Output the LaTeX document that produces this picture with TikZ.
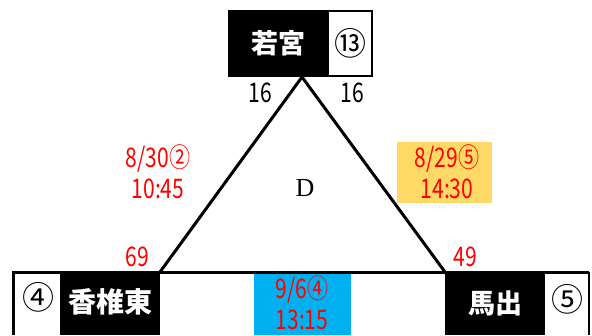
\documentclass[tikz,border=0pt]{standalone}
\usepackage{fontspec}
\usepackage{graphicx}
\newfontfamily\jp{Noto Sans CJK JP}
\newfontfamily\serif{Liberation Serif}
\definecolor{skyb}{HTML}{00B0F0}
\definecolor{yel}{HTML}{FFD966}
\newcommand\narrow[1]{\scalebox{0.78}[1]{#1}}
\begin{document}
\begin{tikzpicture}[x=1pt,y=-1pt,
  namebox/.style={fill=black,text=white,font=\jp\bfseries\fontsize{27}{30}\selectfont,inner sep=0pt,minimum width=100pt},
  circnum/.style={font=\jp\fontsize{32}{34}\selectfont,inner sep=0pt},
  datetxt/.style={text=red,font=\jp\fontsize{27}{31}\selectfont,align=center,inner sep=0pt},
  numtxt/.style={font=\jp\fontsize{27}{30}\selectfont,inner sep=0pt},
  edge/.style={line width=3pt},
  frame/.style={line width=3pt}]
\useasboundingbox (0,0) rectangle (592,335);
% top station box
\node[namebox,minimum height=67pt] (waka) at (278,43.5) {若宮};
\node[draw=black,line width=2pt,fill=white,minimum width=44pt,minimum height=65pt,inner sep=0pt] (wakan) at (350,43.5) {};
\node[circnum] (wakac) at (350,43) {⑬};
% bottom frame
\coordinate (fl) at (13,335);
\coordinate (ftl) at (13,272);
\coordinate (ftr) at (589,272);
\coordinate (fr) at (589,335);
\node[namebox,minimum height=63pt,anchor=north] (kashii) at (110,272) {};
\node[namebox,minimum height=63pt,anchor=north] (made) at (495,272) {};
\node[fill=skyb,minimum width=97pt,minimum height=62pt,inner sep=0pt] (bbox) at (302.5,304) {};
\draw[frame] (fl) -- (ftl) -- (ftr);
\draw[line width=2pt] (ftr) -- (fr);
\node[text=white,font=\jp\bfseries\fontsize{28}{30}\selectfont,inner sep=0pt] (kashiit) at (110,302) {香椎東};
\node[text=white,font=\jp\bfseries\fontsize{27}{30}\selectfont,inner sep=0pt] (madet) at (495,303) {馬出};
\node[circnum] (c4) at (38,297) {④};
\node[circnum] (c5) at (567,299) {⑤};
% triangle
\coordinate (apex) at (302,77);
\coordinate (bl) at (160,272);
\coordinate (br) at (445,272);
\draw[edge] (bl) -- (apex) -- (br);
% labels
\node[numtxt] (n16a) at (260,93) {\narrow{16}};
\node[numtxt] (n16b) at (352,93) {\narrow{16}};
\node[numtxt,text=red] (n69) at (137,257) {\narrow{69}};
\node[numtxt,text=red] (n49) at (465,257) {\narrow{49}};
\node[font=\serif\fontsize{26}{28}\selectfont,inner sep=0pt] (D) at (305,188) {D};
% dates
\node[datetxt] (d1) at (158,172) {\narrow{8/30②}\\\narrow{10:45}};
\node[fill=yel,minimum width=95pt,minimum height=61pt,inner sep=0pt] (ybox) at (444.5,172.5) {};
\node[datetxt] (d2) at (447,172) {\narrow{8/29⑤}\\\narrow{14:30}};
\node[datetxt] (d3) at (302,303) {\narrow{9/6④}\\\narrow{13:15}};
\end{tikzpicture}
\end{document}
